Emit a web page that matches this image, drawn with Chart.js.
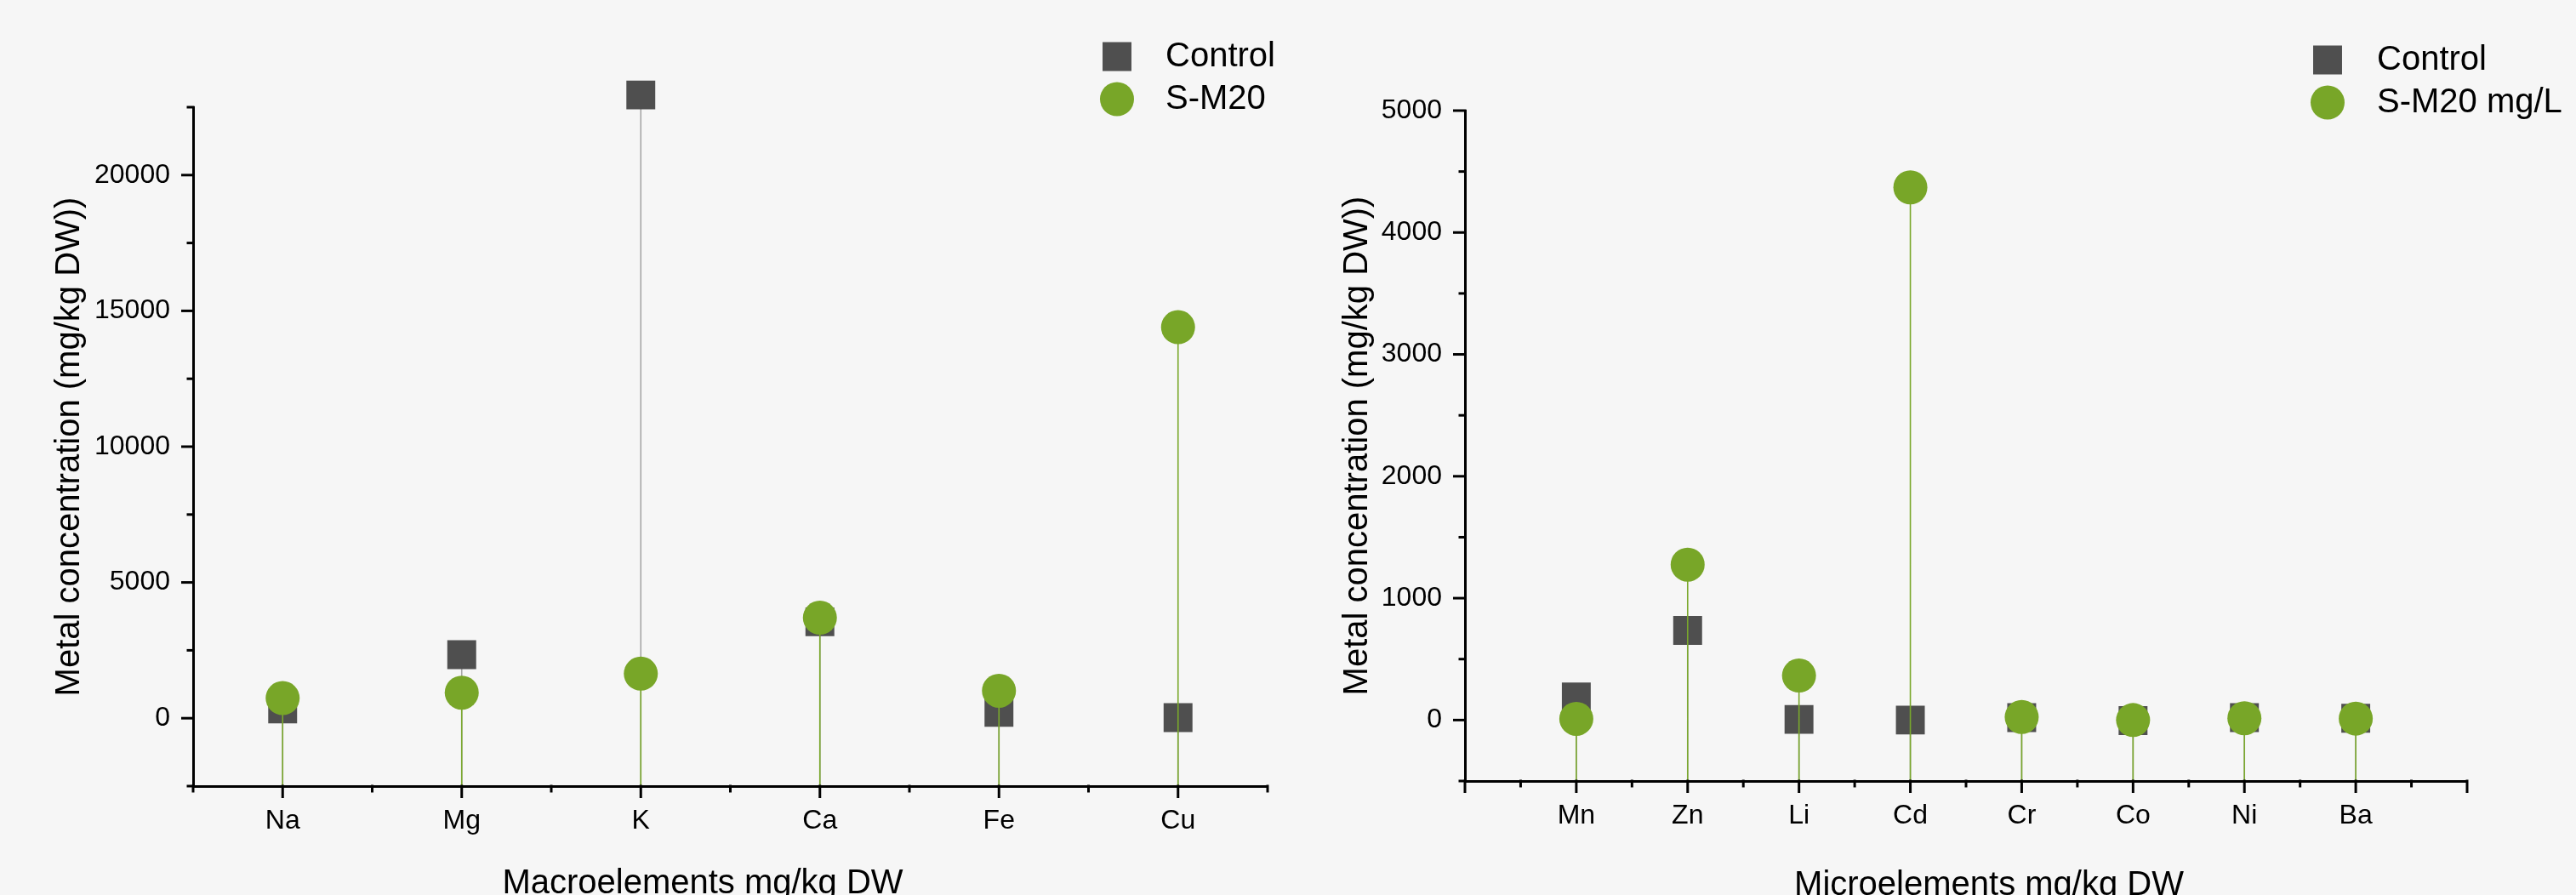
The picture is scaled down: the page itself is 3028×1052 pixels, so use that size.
<!DOCTYPE html>
<html>
<head>
<meta charset="utf-8">
<title>Metal concentration</title>
<script src="https://cdn.jsdelivr.net/npm/chart.js@4.4.1/dist/chart.umd.min.js"></script>
<style>
  html, body { margin: 0; padding: 0; background: #f6f6f6; }
  #wrap { position: relative; width: 3028px; height: 1052px; overflow: hidden; background: #f6f6f6; }
  #wrap canvas { position: absolute; top: 0; }
  #macro { left: 0; }
  #micro { left: 1514px; }
</style>
</head>
<body>
<div id="wrap">
  <canvas id="macro" width="1514" height="1052"></canvas>
  <canvas id="micro" width="1514" height="1052"></canvas>
</div>
<script>
// ---- data -------------------------------------------------------------
const macroElements = ['Na', 'Mg', 'K', 'Ca', 'Fe', 'Cu'];
const macroControl  = [340, 2340, 22950, 3550, 220, 20];
const macroTreated  = [740, 940, 1640, 3700, 1010, 14400];
const macroYTicks   = [0, 5000, 10000, 15000, 20000];
const macroSeries   = ['Control', 'S-M20'];
const macroXTitle   = 'Macroelements mg/kg DW';

const microElements = ['Mn', 'Zn', 'Li', 'Cd', 'Cr', 'Co', 'Ni', 'Ba'];
const microControl  = [190, 735, 5, 0, 20, -5, 20, 15];
const microTreated  = [10, 1275, 365, 4370, 25, 0, 15, 12];
const microYTicks   = [0, 1000, 2000, 3000, 4000, 5000];
const microSeries   = ['Control', 'S-M20 mg/L'];
const microXTitle   = 'Microelements mg/kg DW';

const yTitle = 'Metal concentration (mg/kg DW))';

// ---- styling ----------------------------------------------------------
const FONT = "'Liberation Sans', Arial, Helvetica, sans-serif";
const CONTROL_COLOR = '#4f4f4f';
const TREATED_COLOR = '#78a628';
const CONTROL_STEM  = '#a6a6a6';
const TREATED_STEM  = '#7aa82c';

const toPoints = values => values.map((v, i) => ({ x: i + 1, y: v }));

// Vertical drop line from every marker down to the x axis,
// painted right before that dataset's markers.
const stemPlugin = {
  id: 'stems',
  beforeDatasetDraw(chart, args) {
    const ds = chart.data.datasets[args.index];
    if (!ds.stemColor) return;
    const { ctx, chartArea } = chart;
    ctx.save();
    ctx.strokeStyle = ds.stemColor;
    ctx.lineWidth = 1.6;
    ctx.beginPath();
    args.meta.data.forEach(pt => {
      ctx.moveTo(pt.x, pt.y);
      ctx.lineTo(pt.x, chartArea.bottom);
    });
    ctx.stroke();
    ctx.restore();
  }
};

// Major and minor tick marks pointing outward from both axes.
const axisTickPlugin = {
  id: 'axisTicks',
  afterDraw(chart, args, opts) {
    const { ctx } = chart;
    ctx.save();
    ctx.strokeStyle = '#000';
    ctx.lineWidth = 3;
    ['x', 'y'].forEach(id => {
      const scale = chart.scales[id];
      const o = opts[id];
      const n = Math.round((scale.max - scale.min) / o.minor);
      for (let k = 0; k <= n; k++) {
        const v = scale.min + k * o.minor;
        const r = v / o.major;
        const major = Math.abs(r - Math.round(r)) < 1e-6;
        const len = major ? 14 : 7.5;
        const p = scale.getPixelForValue(v);
        ctx.beginPath();
        if (id === 'x') {
          ctx.moveTo(p, scale.top - 1.5);
          ctx.lineTo(p, scale.top + len);
        } else {
          ctx.moveTo(scale.right + 1.5, p);
          ctx.lineTo(scale.right - len, p);
        }
        ctx.stroke();
      }
    });
    ctx.restore();
  }
};

// Legend (marker + name per series) and the x-axis caption.
const legendPlugin = {
  id: 'sideLegend',
  afterDraw(chart, args, opts) {
    const { ctx } = chart;
    ctx.save();
    ctx.font = '40px ' + FONT;
    ctx.textBaseline = 'middle';
    ctx.textAlign = 'left';
    chart.data.datasets.forEach((ds, i) => {
      const y = opts.y + i * opts.rowGap;
      ctx.fillStyle = ds.backgroundColor;
      ctx.beginPath();
      if (ds.pointStyle === 'rect') {
        const h = ds.pointRadius * Math.SQRT1_2;
        ctx.rect(opts.markerX - h, y - h, 2 * h, 2 * h);
      } else {
        ctx.arc(opts.markerX, y, ds.pointRadius, 0, Math.PI * 2);
      }
      ctx.fill();
      ctx.fillStyle = '#000';
      ctx.fillText(ds.label, opts.textX, y);
    });
    ctx.textAlign = 'center';
    ctx.textBaseline = 'alphabetic';
    ctx.fillText(opts.xTitle, opts.xTitleX, opts.xTitleY);
    ctx.restore();
  }
};

function buildChart(canvasId, cfg) {
  return new Chart(document.getElementById(canvasId), {
    type: 'scatter',
    data: {
      datasets: [
        {
          label: cfg.series[0],
          data: toPoints(cfg.control),
          pointStyle: 'rect',
          pointRadius: 24,
          backgroundColor: CONTROL_COLOR,
          borderWidth: 0,
          stemColor: CONTROL_STEM,
          clip: false,
          order: 1          // painted first, underneath the treated series
        },
        {
          label: cfg.series[1],
          data: toPoints(cfg.treated),
          pointStyle: 'circle',
          pointRadius: 20,
          backgroundColor: TREATED_COLOR,
          borderWidth: 0,
          stemColor: TREATED_STEM,
          clip: false,
          order: 0          // painted last, on top
        }
      ]
    },
    options: {
      responsive: false,
      devicePixelRatio: 1,
      animation: false,
      events: [],
      layout: { padding: cfg.padding },
      plugins: {
        legend: { display: false },
        tooltip: { enabled: false },
        axisTicks: { x: { major: 1, minor: 0.5 }, y: { major: cfg.yMajor, minor: cfg.yMajor / 2 } },
        sideLegend: cfg.legend
      },
      scales: {
        x: {
          type: 'linear',
          min: cfg.xMin,
          max: cfg.xMax,
          grid: { display: false, drawTicks: false },
          border: { display: true, color: '#000', width: 3 },
          afterBuildTicks: scale => {
            scale.ticks = cfg.categories.map((_, i) => ({ value: i + 1 }));
          },
          afterFit: scale => { scale.height = cfg.xHeight; },
          ticks: {
            autoSkip: false,
            maxRotation: 0,
            padding: 22,
            color: '#000',
            font: { family: FONT, size: 32 },
            callback: value => cfg.categories[Math.round(value) - 1] ?? ''
          }
        },
        y: {
          type: 'linear',
          min: cfg.yMin,
          max: cfg.yMax,
          grid: { display: false, drawTicks: false },
          border: { display: true, color: '#000', width: 3 },
          afterBuildTicks: scale => {
            scale.ticks = cfg.yTicks.map(v => ({ value: v }));
          },
          afterFit: scale => { scale.width = cfg.yWidth; },
          ticks: {
            padding: 27,
            color: '#000',
            font: { family: FONT, size: 32 },
            callback: value => String(value)
          },
          title: {
            display: true,
            text: yTitle,
            color: '#000',
            font: { family: FONT, size: 40, lineHeight: 1.2 },
            padding: { top: 58, bottom: 0 }
          }
        }
      }
    },
    plugins: [stemPlugin, axisTickPlugin, legendPlugin]
  });
}

buildChart('macro', {
  categories: macroElements,
  control: macroControl,
  treated: macroTreated,
  series: macroSeries,
  yTicks: macroYTicks,
  yMajor: 5000,
  xMin: 0.5, xMax: 6.5,
  yMin: -2500, yMax: 22500,
  padding: { left: 0, right: 22, top: 126, bottom: 0 },
  yWidth: 227,
  xHeight: 128,
  legend: { markerX: 1313, textX: 1370, y: 66.5, rowGap: 50,
            xTitle: macroXTitle, xTitleX: 826, xTitleY: 1050 }
});

buildChart('micro', {
  categories: microElements,
  control: microControl,
  treated: microTreated,
  series: microSeries,
  yTicks: microYTicks,
  yMajor: 1000,
  xMin: 0, xMax: 9,
  yMin: -500, yMax: 5000,
  padding: { left: 0, right: 128, top: 130, bottom: 0 },
  yWidth: 208,
  xHeight: 134,
  legend: { markerX: 1222, textX: 1280, y: 70.5, rowGap: 50,
            xTitle: microXTitle, xTitleX: 824, xTitleY: 1052 }
});
</script>
</body>
</html>
